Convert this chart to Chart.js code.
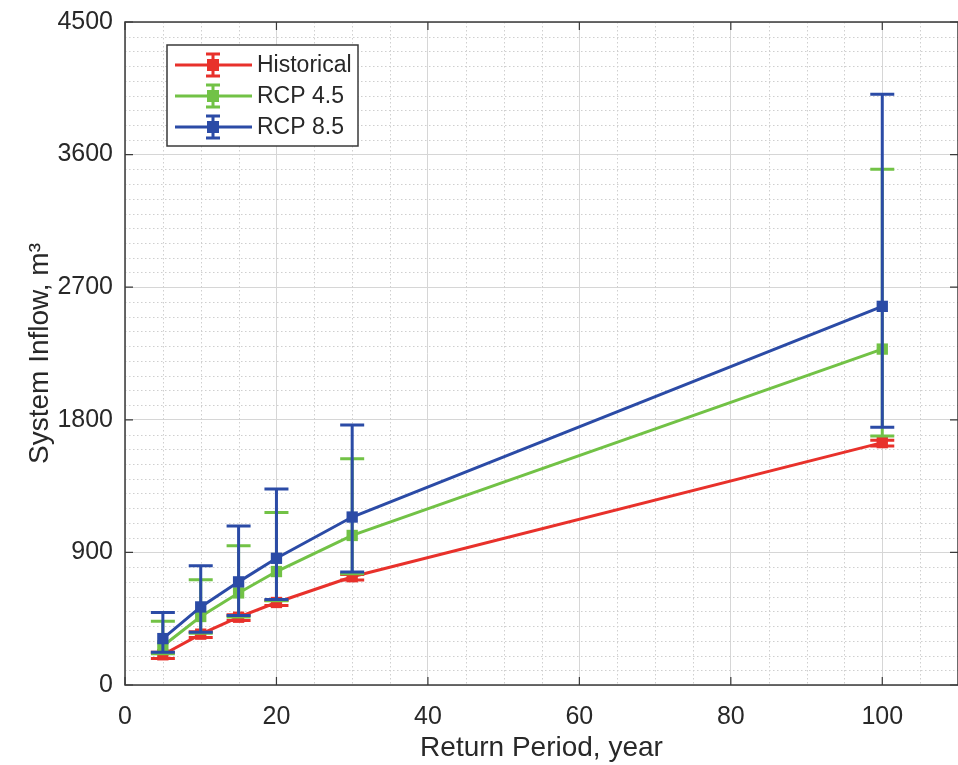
<!DOCTYPE html>
<html>
<head>
<meta charset="utf-8">
<script src="https://cdn.jsdelivr.net/npm/chart.js@4.4.0/dist/chart.umd.min.js"></script>
<style>
  html, body { margin: 0; padding: 0; background: #fff; }
  #wrap { width: 958px; height: 765px; }
</style>
</head>
<body>
<div id="wrap"><canvas id="chart" width="958" height="765"></canvas></div>
<script>
// values
const returnPeriods = [5, 10, 15, 20, 30, 100];

const histMean = [205, 345, 460, 560, 735, 1645];
const histLow  = [180, 322, 438, 540, 712, 1622];
const histHigh = [222, 362, 476, 574, 750, 1662];

const rcp45Mean = [265, 465, 625, 770, 1015, 2280];
const rcp45Low  = [212, 352, 462, 572, 755, 1690];
const rcp45High = [432, 715, 945, 1170, 1535, 3500];

const rcp85Mean = [315, 530, 700, 860, 1140, 2570];
const rcp85Low  = [222, 358, 472, 580, 767, 1750];
const rcp85High = [492, 810, 1080, 1330, 1765, 4010];

const xTicks = [0, 20, 40, 60, 80, 100];
const yTicks = [0, 900, 1800, 2700, 3600, 4500];

const RED = '#e8312b';
const GREEN = '#72c246';
const BLUE = '#2b4ba6';
const TEXT = '#282828';
const FONT = "'Liberation Sans', Arial, sans-serif";

function toPoints(vals) {
    return vals.map((v, i) => ({ x: returnPeriods[i], y: v }));
}

// vertical error bars with caps, drawn under each line's markers
const errorBars = {
    id: 'errorBars',
    beforeDatasetDraw(chart, args) {
        const ds = chart.data.datasets[args.index];
        const xs = chart.scales.x, ys = chart.scales.y;
        const ctx = chart.ctx;
        ctx.save();
        ctx.strokeStyle = ds.borderColor;
        ctx.lineWidth = 3;
        ds.errLow.forEach((lo, i) => {
            const px = xs.getPixelForValue(returnPeriods[i]);
            const yl = ys.getPixelForValue(lo);
            const yh = ys.getPixelForValue(ds.errHigh[i]);
            ctx.beginPath();
            ctx.moveTo(px, yl); ctx.lineTo(px, yh);
            ctx.moveTo(px - 12, yl); ctx.lineTo(px + 12, yl);
            ctx.moveTo(px - 12, yh); ctx.lineTo(px + 12, yh);
            ctx.stroke();
        });
        ctx.restore();
    }
};

// minor dotted grid, box frame, tick marks and the legend
const matlabAxes = {
    id: 'matlabAxes',
    beforeDatasetsDraw(chart) {
        const { ctx, chartArea: a } = chart;
        const xs = chart.scales.x, ys = chart.scales.y;
        ctx.save();
        ctx.strokeStyle = '#cfcfcf';
        ctx.lineWidth = 1;
        ctx.setLineDash([1.5, 2.5]);
        for (let v = 5; v < 110; v += 5) {
            if (v % 20 === 0) continue;
            const px = Math.round(xs.getPixelForValue(v)) + 0.5;
            ctx.beginPath(); ctx.moveTo(px, a.top); ctx.lineTo(px, a.bottom); ctx.stroke();
        }
        for (let v = 100; v < 4500; v += 100) {
            if (v % 900 === 0) continue;
            const py = Math.round(ys.getPixelForValue(v)) + 0.5;
            ctx.beginPath(); ctx.moveTo(a.left, py); ctx.lineTo(a.right, py); ctx.stroke();
        }
        ctx.restore();
    },
    afterDraw(chart) {
        const { ctx, chartArea: a } = chart;
        const xs = chart.scales.x, ys = chart.scales.y;
        ctx.save();
        ctx.strokeStyle = '#3a3a3a';
        ctx.lineWidth = 1.5;
        ctx.strokeRect(a.left, a.top, a.right - a.left, a.bottom - a.top);

        // inward tick marks
        ctx.lineWidth = 1.2;
        ctx.beginPath();
        xTicks.forEach(v => {
            const px = xs.getPixelForValue(v);
            ctx.moveTo(px, a.bottom); ctx.lineTo(px, a.bottom - 8);
            ctx.moveTo(px, a.top); ctx.lineTo(px, a.top + 8);
        });
        yTicks.forEach(v => {
            const py = ys.getPixelForValue(v);
            ctx.moveTo(a.left, py); ctx.lineTo(a.left + 8, py);
            ctx.moveTo(a.right, py); ctx.lineTo(a.right - 8, py);
        });
        ctx.stroke();

        // legend
        const lx = 167, ly = 45, lw = 191, lh = 101;
        ctx.fillStyle = '#fff';
        ctx.fillRect(lx, ly, lw, lh);
        ctx.strokeStyle = '#3a3a3a';
        ctx.lineWidth = 1.5;
        ctx.strokeRect(lx, ly, lw, lh);
        ctx.font = '23px ' + FONT;
        ctx.textBaseline = 'middle';
        chart.data.datasets.slice().reverse().forEach((ds, i) => {
            const cy = ly + 20 + i * 31;
            const cx = 213;
            ctx.strokeStyle = ds.borderColor;
            ctx.lineWidth = 3;
            ctx.beginPath();
            ctx.moveTo(175, cy); ctx.lineTo(252, cy);
            ctx.moveTo(cx, cy - 11); ctx.lineTo(cx, cy + 11);
            ctx.moveTo(cx - 7, cy - 11); ctx.lineTo(cx + 7, cy - 11);
            ctx.moveTo(cx - 7, cy + 11); ctx.lineTo(cx + 7, cy + 11);
            ctx.stroke();
            ctx.fillStyle = ds.borderColor;
            ctx.fillRect(cx - 6, cy - 6, 12, 12);
            ctx.fillStyle = TEXT;
            ctx.fillText(ds.label, 257, cy + 1);
        });
        ctx.restore();
    }
};

const ctx = document.getElementById('chart').getContext('2d');

new Chart(ctx, {
    type: 'line',
    data: {
        datasets: [
            {
                label: 'RCP 8.5',
                data: toPoints(rcp85Mean),
                errLow: rcp85Low, errHigh: rcp85High,
                borderColor: BLUE, backgroundColor: BLUE,
                order: 1
            },
            {
                label: 'RCP 4.5',
                data: toPoints(rcp45Mean),
                errLow: rcp45Low, errHigh: rcp45High,
                borderColor: GREEN, backgroundColor: GREEN,
                order: 2
            },
            {
                label: 'Historical',
                data: toPoints(histMean),
                errLow: histLow, errHigh: histHigh,
                borderColor: RED, backgroundColor: RED,
                order: 3
            }
        ]
    },
    options: {
        responsive: false,
        animation: false,
        devicePixelRatio: 1,
        clip: false,
        layout: { autoPadding: false, padding: { top: 22, right: -3, left: 0, bottom: 0 } },
        elements: {
            line: { borderWidth: 3, tension: 0 },
            point: { pointStyle: 'rect', radius: 8, borderWidth: 0 }
        },
        plugins: {
            legend: { display: false },
            tooltip: { enabled: false }
        },
        scales: {
            x: {
                type: 'linear',
                min: 0,
                max: 110,
                afterBuildTicks: scale => { scale.ticks = xTicks.map(v => ({ value: v })); },
                afterFit: scale => {
                    scale.height = 80;
                    scale.paddingLeft = 0;
                    scale.paddingRight = 0;
                },
                grid: { color: '#d6d6d6', drawTicks: false, lineWidth: 1 },
                border: { display: false },
                ticks: {
                    padding: 17,
                    color: TEXT,
                    font: { family: FONT, size: 25 },
                    callback: v => String(v)
                },
                title: {
                    display: true,
                    text: 'Return Period, year',
                    color: TEXT,
                    font: { family: FONT, size: 28 },
                    padding: { top: 0, bottom: 0 }
                }
            },
            y: {
                type: 'linear',
                min: 0,
                max: 4500,
                afterBuildTicks: scale => { scale.ticks = yTicks.map(v => ({ value: v })); },
                afterFit: scale => {
                    scale.width = 125;
                    scale.paddingTop = 0;
                    scale.paddingBottom = 0;
                },
                grid: { color: '#d6d6d6', drawTicks: false, lineWidth: 1 },
                border: { display: false },
                ticks: {
                    padding: 12,
                    color: TEXT,
                    font: { family: FONT, size: 25 },
                    callback: v => String(v)
                },
                title: {
                    display: true,
                    text: 'System Inflow, m³',
                    color: TEXT,
                    font: { family: FONT, size: 28 },
                    padding: { top: 23, bottom: 0 }
                }
            }
        }
    },
    plugins: [errorBars, matlabAxes]
});
</script>
</body>
</html>
